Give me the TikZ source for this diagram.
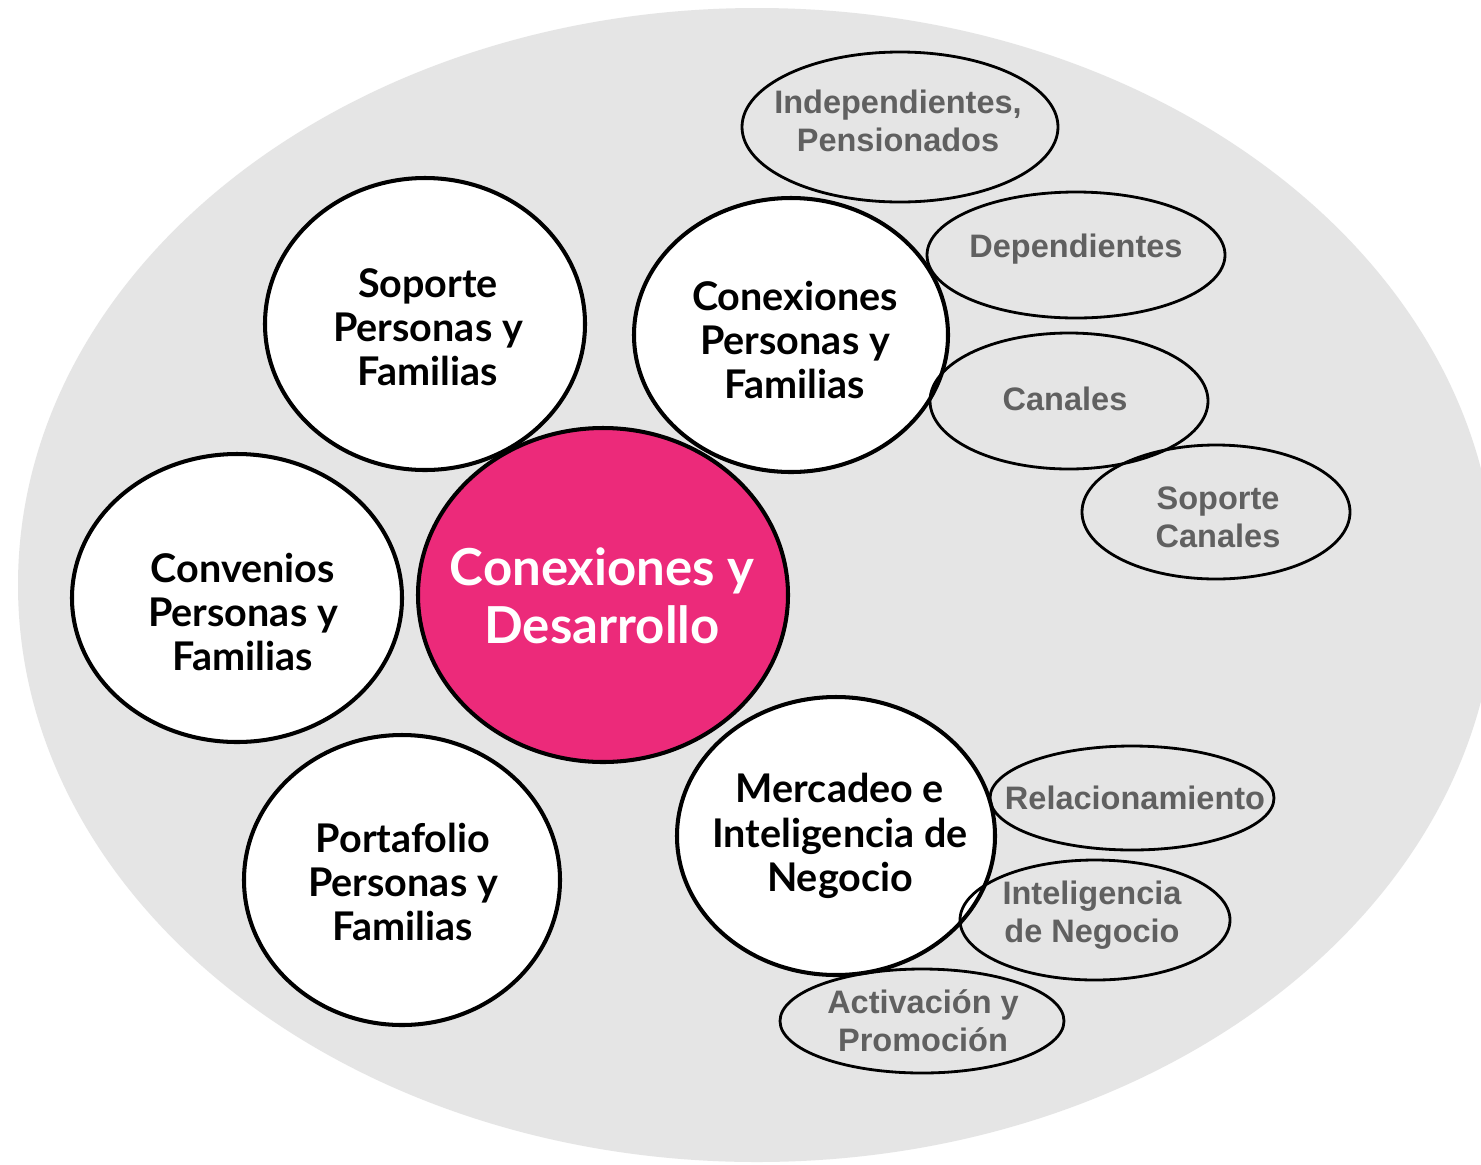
\documentclass[tikz,border=0pt]{standalone}
\usepackage{fontspec}
\setmainfont{Lato}
\newfontfamily\graysans{Liberation Sans}

\definecolor{bggray}{HTML}{E5E5E5}
\definecolor{hotpink}{HTML}{EC2A7A}
\definecolor{labelgray}{HTML}{606060}

\tikzset{
  bubble/.style={draw=black, line width=2.3pt, fill=white},
  corebubble/.style={bubble, fill=hotpink},
  subtopic/.style={draw=black, line width=1.6pt},
  bubbletext/.style={align=center, inner sep=0pt, font=\fontsize{22.5}{25.2}\selectfont\bfseries},
  coretext/.style={align=center, inner sep=0pt, text=white, font=\fontsize{29}{33}\selectfont\bfseries},
  subtext/.style={align=center, inner sep=0pt, text=labelgray, font=\graysans\fontsize{18.5}{21.5}\selectfont\bfseries}
}

\begin{document}
\begin{tikzpicture}[x=0.02cm, y=-0.02cm]
    % Frame
    \useasboundingbox (0,0) rectangle (1481,1164);
    \fill[white] (0,0) rectangle (1481,1164);
    % Background
    \begin{scope}
        \clip (0,0) rectangle (1481,1164);
        \fill[bggray] (757,585) ellipse (739 and 577);
    \end{scope}
    % Main topics
    \draw[bubble] (425,324) ellipse (160 and 146);
    \draw[bubble] (791,335) ellipse (157 and 137);
    \draw[bubble] (237,598) ellipse (165 and 144);
    \draw[bubble] (402,880) ellipse (158 and 145);
    \draw[bubble] (836,836) ellipse (159 and 139);
    \node[bubbletext] (soporte) at (428,327) {Soporte\\Personas y\\Familias};
    \node[bubbletext] (conexiones) at (795,340) {Conexiones\\Personas y\\Familias};
    \node[bubbletext] (convenios) at (243,612) {Convenios\\Personas y\\Familias};
    \node[bubbletext] (portafolio) at (403,882) {Portafolio\\Personas y\\Familias};
    \node[bubbletext] (mercadeo) at (840,836) {Mercadeo e\\Inteligencia de\\Negocio};
    % Core
    \draw[corebubble] (603,595) ellipse (185 and 167);
    \node[coretext] (core) at (602,596) {Conexiones y\\Desarrollo};
    % Subtopics of Conexiones
    \draw[subtopic] (900,127) ellipse (158 and 75);
    \draw[subtopic] (1076,255) ellipse (149 and 63);
    \draw[subtopic] (1069,401) ellipse (139 and 68);
    \draw[subtopic] (1216,512) ellipse (134 and 67);
    \node[subtext] (independientes) at (898,121) {Independientes,\\Pensionados};
    \node[subtext] (dependientes) at (1076,249) {Dependientes};
    \node[subtext] (canales) at (1065,399) {Canales};
    \node[subtext] (soportecanales) at (1218,517) {Soporte\\Canales};
    % Subtopics of Mercadeo
    \draw[subtopic] (1132,798) ellipse (142 and 52);
    \draw[subtopic] (1095,920) ellipse (135 and 60);
    \draw[subtopic] (922,1021) ellipse (142 and 52);
    \node[subtext] (relacionamiento) at (1135,798) {Relacionamiento};
    \node[subtext] (inteligencia) at (1092,915) {Inteligencia\\de Negocio};
    \node[subtext] (activacion) at (923,1021) {Activación y\\Promoción};
\end{tikzpicture}
\end{document}
